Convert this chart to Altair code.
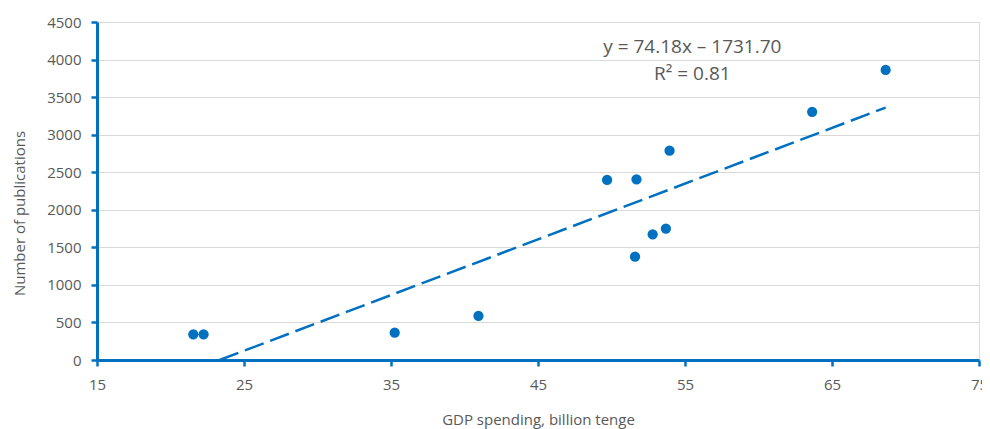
import altair as alt
import pandas as pd

# Data
gdp = [21.55, 22.25, 35.25, 40.95, 49.7, 51.6, 51.7, 52.8, 53.7, 53.95, 63.65, 68.65]
pubs = [342, 342, 364, 588, 2397, 1376, 2406, 1674, 1750, 2787, 3305, 3862]
slope = 74.18
intercept = -1731.70
r2 = 0.81
x_ticks = [15, 25, 35, 45, 55, 65, 75]
y_ticks = [0, 500, 1000, 1500, 2000, 2500, 3000, 3500, 4000, 4500]
eq_lines = ["y = 74.18x \u2013 1731.70", "R\u00b2 = 0.81"]
eq_x = [55.5, 55.5]
eq_y = [4170, 3805]

BLUE = "#0070C0"
GREY = "#595959"
FONT = "Open Sans"

pts = pd.DataFrame({"gdp": gdp, "pubs": pubs})
x0 = -intercept / slope
x1 = max(gdp)
trend = pd.DataFrame({"gdp": [x0, x1], "pubs": [slope * x0 + intercept, slope * x1 + intercept]})
eq = pd.DataFrame({"gdp": eq_x, "pubs": eq_y, "t": eq_lines})

xscale = alt.Scale(domain=[15, 75], nice=False, zero=False)
yscale = alt.Scale(domain=[0, 4500], nice=False)

xaxis = alt.Axis(values=x_ticks, title="GDP spending, billion tenge", grid=False, format="d",
                 domainColor=BLUE, domainWidth=3, tickColor=BLUE, tickWidth=2.5, tickSize=6,
                 labelColor=GREY, labelFont=FONT, labelFontSize=15, labelPadding=11,
                 titleColor=GREY, titleFont=FONT, titleFontSize=15, titleFontWeight="normal",
                 titlePadding=20, labelFlush=False, labelOverlap=False)
yaxis = alt.Axis(values=y_ticks, title="Number of publications", grid=True, format="d",
                 gridColor="#d9d9d9", gridWidth=1,
                 domainColor=BLUE, domainWidth=3, tickColor=BLUE, tickWidth=2.5, tickSize=6,
                 labelColor=GREY, labelFont=FONT, labelFontSize=15, labelPadding=10,
                 titleColor=GREY, titleFont=FONT, titleFontSize=15, titleFontWeight="normal",
                 titleX=-70, titleY=191, labelFlush=False, labelOverlap=False)

X = alt.X("gdp:Q", scale=xscale, axis=xaxis)
Y = alt.Y("pubs:Q", scale=yscale, axis=yaxis)

line = alt.Chart(trend).mark_line(color=BLUE, strokeWidth=2.5, strokeDash=[20, 7]).encode(x=X, y=Y)

points = alt.Chart(pts).mark_circle(size=105, color=BLUE, opacity=1).encode(x=X, y=Y)

text = alt.Chart(eq).mark_text(font=FONT, fontSize=19, color=GREY, align="center", baseline="middle").encode(
    x=X, y=Y, text="t:N",
)

chart = alt.layer(line, points, text).properties(
    width=882, height=338,
    autosize=alt.AutoSizeParams(type="none"),
    padding={"left": 89, "top": 14, "right": 3, "bottom": 69},
).configure_view(stroke=None).configure(background="white")

chart.save("out.html", embed_options={"renderer": "svg", "actions": False})
